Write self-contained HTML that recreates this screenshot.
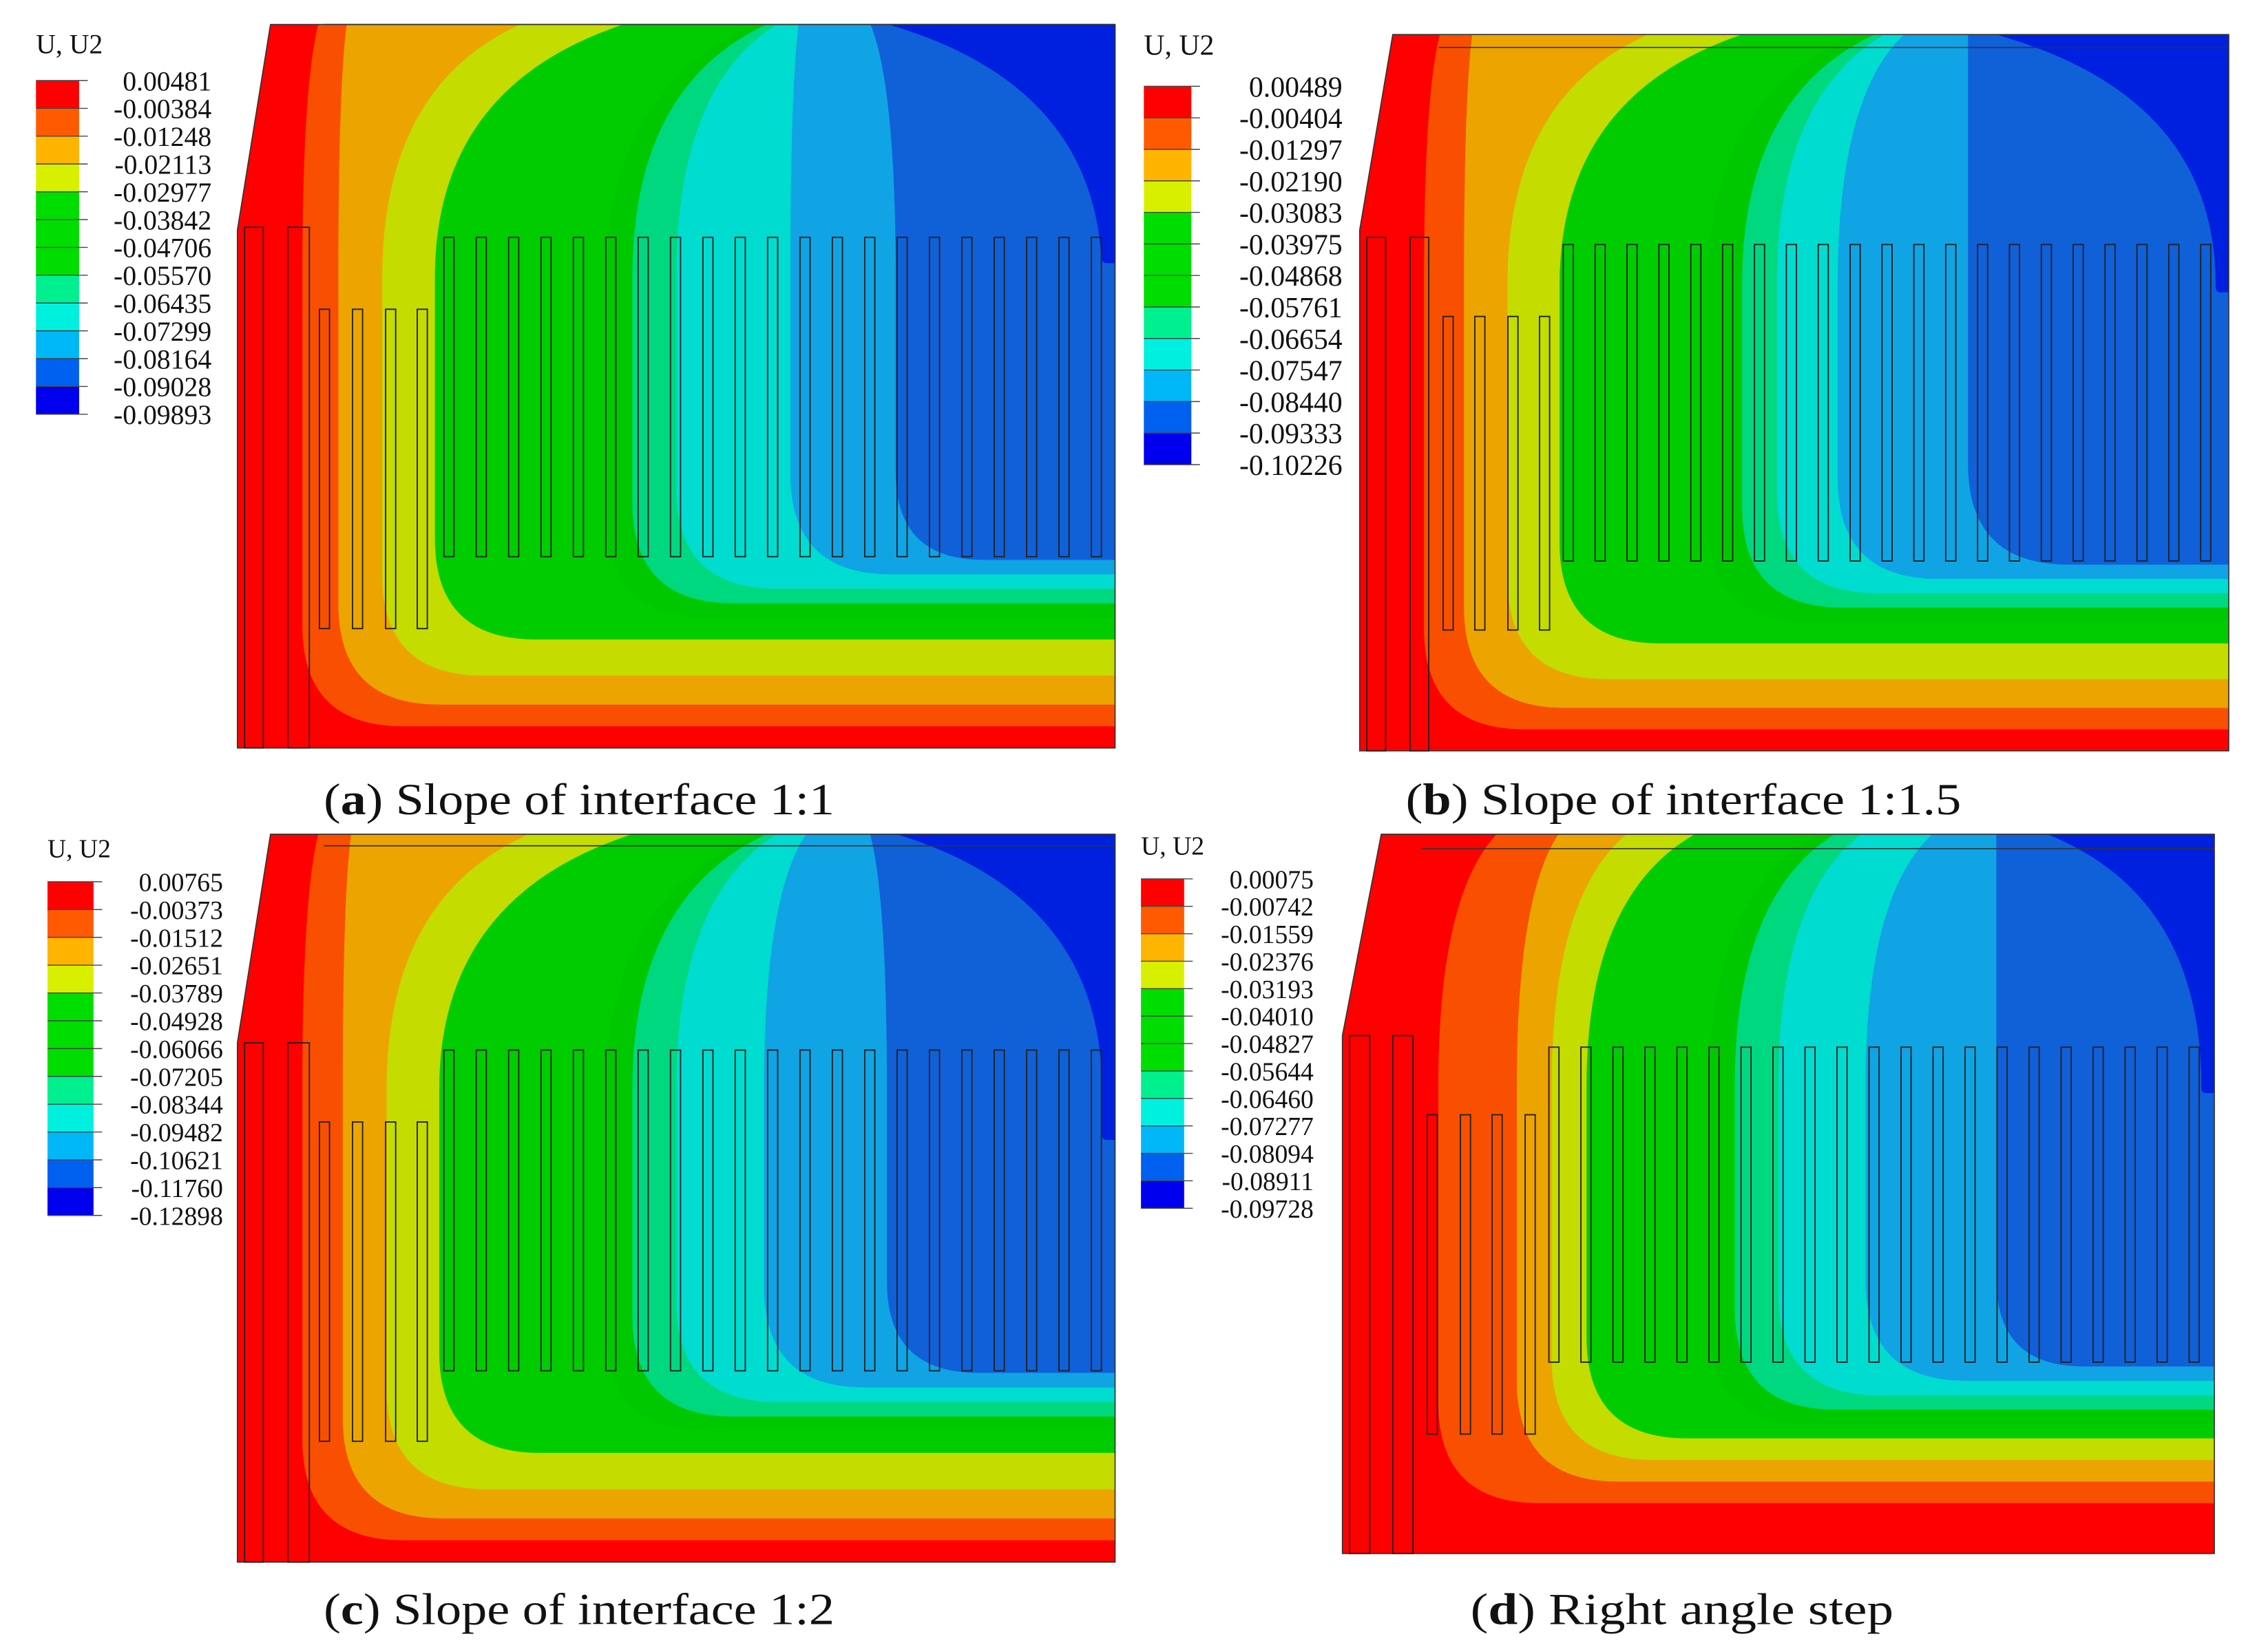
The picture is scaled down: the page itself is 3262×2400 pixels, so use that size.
<!DOCTYPE html>
<html><head><meta charset="utf-8">
<style>
html,body{margin:0;padding:0;background:#fff;}
svg{display:block;}
text{font-family:"Liberation Serif",serif;fill:#111;}
</style></head>
<body>
<svg id="fig" width="3262" height="2400" viewBox="0 0 1561 1148.5" xmlns="http://www.w3.org/2000/svg">
<defs></defs>
</svg>
<script>
// legend values per panel
const valuesA = ["0.00481","-0.00384","-0.01248","-0.02113","-0.02977","-0.03842","-0.04706","-0.05570","-0.06435","-0.07299","-0.08164","-0.09028","-0.09893"];
const valuesB = ["0.00489","-0.00404","-0.01297","-0.02190","-0.03083","-0.03975","-0.04868","-0.05761","-0.06654","-0.07547","-0.08440","-0.09333","-0.10226"];
const valuesC = ["0.00765","-0.00373","-0.01512","-0.02651","-0.03789","-0.04928","-0.06066","-0.07205","-0.08344","-0.09482","-0.10621","-0.11760","-0.12898"];
const valuesD = ["0.00075","-0.00742","-0.01559","-0.02376","-0.03193","-0.04010","-0.04827","-0.05644","-0.06460","-0.07277","-0.08094","-0.08911","-0.09728"];
const legendColors = ['#ff0000','#ff5a00','#ffb400','#d8f000','#00dd00','#00dd00','#00dd00','#00f090','#00f0e0','#00b8f8','#0060f0','#0000ee'];
// contour layers: [xTopFrac, xMidFrac, yBottomFrac, colorIndex]
const fieldColors = ['#ff0000','#f85000','#eca400','#c4dc00','#00cc00','#00c800','#00d880','#00dcd0','#10a4e4','#1060d8','#0020e0'];
const layersA = [[0.093,0.074,0.97,1],[0.125,0.115,0.94,2],[0.33,0.165,0.9,3],[0.45,0.225,0.85,4],[0.6,0.42,0.82,5],[0.61,0.45,0.8,6],[0.62,0.5,0.78,7],[0.64,0.63,0.76,8],[0.72,0.75,0.74,9],[0.73,0.985,0.33,10]];
const layersB = [[0.093,0.074,0.97,1],[0.13,0.12,0.94,2],[0.34,0.17,0.9,3],[0.45,0.23,0.85,4],[0.58,0.4,0.82,5],[0.6,0.44,0.8,6],[0.61,0.48,0.78,7],[0.63,0.55,0.76,8],[0.7,0.7,0.74,9],[0.72,0.985,0.36,10]];
const layersC = [[0.093,0.074,0.97,1],[0.13,0.12,0.94,2],[0.34,0.17,0.9,3],[0.46,0.23,0.85,4],[0.6,0.42,0.82,5],[0.61,0.45,0.8,6],[0.62,0.5,0.78,7],[0.65,0.6,0.76,8],[0.72,0.74,0.74,9],[0.74,0.985,0.42,10]];
const layersD = [[0.18,0.11,0.93,1],[0.25,0.2,0.9,2],[0.33,0.24,0.87,3],[0.41,0.28,0.84,4],[0.55,0.42,0.82,5],[0.57,0.45,0.8,6],[0.6,0.5,0.78,7],[0.68,0.6,0.76,8],[0.75,0.75,0.74,9],[0.8,0.985,0.36,10]];

const NS="http://www.w3.org/2000/svg";
const svg=document.getElementById('fig');
function mk(tag,attrs,parent){const e=document.createElementNS(NS,tag);for(const k in attrs)e.setAttribute(k,attrs[k]);(parent||svg).appendChild(e);return e;}

const panels=[
 {id:'a',x0:165,x1:775,y0:17,y1:520,slopeY:160,topX:188,layers:layersA,
  leg:{tx:25,ty:37,bx:25,bw:30,by:56,bh:232,le:147,fs:19},values:valuesA,cap:{x:225,y:566,w:355,l:'a',t:') Slope of interface 1:1'},
  lp:[170,183,200,215], lpTop:158, sp:[222,245,268,290], spY:[215,437], rp:[312,762], rpY:[165,387], topLine:[225,17]},
 {id:'b',x0:945,x1:1549,y0:24,y1:522,slopeY:160,topX:968,layers:layersB,
  leg:{tx:795,ty:38,bx:795,bw:33,by:60,bh:263,le:933,fs:20},values:valuesB,cap:{x:977,y:566,w:386,l:'b',t:') Slope of interface 1:1.5'},
  lp:[950,963,980,993], lpTop:165, sp:[1003,1025,1048,1070], spY:[220,438], rp:[1090,1533], rpY:[170,390], topLine:[1000,33]},
 {id:'c',x0:165,x1:775,y0:580,y1:1086,slopeY:725,topX:188,layers:layersC,
  leg:{tx:33,ty:596,bx:33,bw:32,by:613,bh:232,le:155,fs:18},values:valuesC,cap:{x:225,y:1129,w:355,l:'c',t:') Slope of interface 1:2'},
  lp:[170,183,200,215], lpTop:725, sp:[222,245,268,290], spY:[780,1002], rp:[312,762], rpY:[730,953], topLine:[225,588]},
 {id:'d',x0:933,x1:1539,y0:580,y1:1080,slopeY:720,topX:960,layers:layersD,
  leg:{tx:793,ty:594,bx:793,bw:30,by:611,bh:229,le:913,fs:18},values:valuesD,cap:{x:1022,y:1129,w:294,l:'d',t:') Right angle step'},
  lp:[938,952,968,982], lpTop:720, sp:[992,1015,1037,1060], spY:[775,997], rp:[1080,1525], rpY:[728,947], topLine:[988,590]}
];

panels.forEach(p=>{
  const g=mk('g',{});
  
  
  const W=p.x1-p.x0,H=p.y1-p.y0;
  const cp=mk('clipPath',{id:'clip-'+p.id},svg.querySelector('defs'));
  const outline=`M${p.x0},${p.y1} L${p.x0},${p.slopeY} L${p.topX},${p.y0} L${p.x1},${p.y0} L${p.x1},${p.y1} Z`;
  mk('path',{d:outline},cp);
  const field=mk('g',{'clip-path':`url(#clip-${p.id})`},g);
  
  
  mk('rect',{x:p.x0,y:p.y0,width:W,height:H,fill:fieldColors[0]},field);
  p.layers.forEach(L=>{
    const xt=p.x0+L[0]*W, xm=p.x0+L[1]*W, yb=p.y0+L[2]*H;
    const r=Math.min(70,(yb-p.y0)*0.4,(p.x1-xm)*0.4);
    const d=`M${xt},${p.y0-2} L${p.x1+2},${p.y0-2} L${p.x1+2},${yb} L${xm+r},${yb} Q${xm},${yb} ${xm},${yb-r} L${xm},${p.y0+0.35*H} Q${xm},${p.y0+0.08*H} ${xt},${p.y0-2} Z`;
    const e=mk('path',{d:d,fill:fieldColors[L[3]]},field);
    
    
  });
  mk('path',{d:outline,fill:'none',stroke:'#333','stroke-width':0.8},g);
  mk('line',{x1:p.topLine[0],y1:p.topLine[1],x2:p.x1,y2:p.topLine[1],stroke:'#333','stroke-width':0.8},g);
  const piles=mk('g',{fill:'none',stroke:'#222','stroke-width':0.9},g);
  
  
  mk('rect',{x:p.lp[0],y:p.lpTop,width:p.lp[1]-p.lp[0],height:p.y1-p.lpTop},piles);
  mk('rect',{x:p.lp[2],y:p.lpTop,width:p.lp[3]-p.lp[2],height:p.y1-p.lpTop},piles);
  p.sp.forEach(x=>mk('rect',{x:x,y:p.spY[0],width:7,height:p.spY[1]-p.spY[0]},piles));
  const n=21,step=(p.rp[1]-p.rp[0])/(n-1);
  for(let i=0;i<n;i++) mk('rect',{x:p.rp[0]+i*step-3.5,y:p.rpY[0],width:7,height:p.rpY[1]-p.rpY[0]},piles);

  // legend
  const lg=mk('g',{},g);
  
  
  const t=mk('text',{x:p.leg.tx,y:p.leg.ty,'font-size':p.leg.fs},lg);t.textContent='U, U2';
  const bh=p.leg.bh/12;
  legendColors.forEach((c,i)=>{
    const r=mk('rect',{x:p.leg.bx,y:p.leg.by+i*bh,width:p.leg.bw,height:bh+0.3,fill:c},lg);
    
    
  });
  p.values.forEach((v,i)=>{
    const y=p.leg.by+i*bh;
    mk('line',{x1:p.leg.bx,y1:y,x2:p.leg.bx+p.leg.bw+6,y2:y,stroke:'#444','stroke-width':0.7},lg);
    const tx=mk('text',{x:p.leg.le,y:y+p.leg.fs*0.36,'font-size':p.leg.fs,'text-anchor':'end'},lg);
    tx.textContent=v;
  });
  const cap=mk('text',{x:p.cap.x,y:p.cap.y,'font-size':31,textLength:p.cap.w,lengthAdjust:'spacingAndGlyphs'},g);
  
  
  const s1=mk('tspan',{},cap);s1.textContent='(';
  const s2=mk('tspan',{'font-weight':'bold'},cap);s2.textContent=p.cap.l;
  const s3=mk('tspan',{},cap);s3.textContent=p.cap.t;
});
</script>
</body></html>
